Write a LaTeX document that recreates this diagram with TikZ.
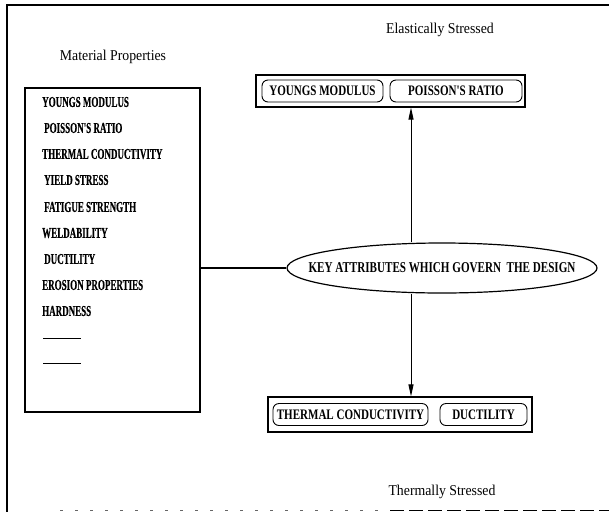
\documentclass[tikz,border=0pt]{standalone}
\usepackage{fontspec}
\setmainfont{Liberation Serif}
\newfontfamily\capsfont[FakeStretch=0.6,FakeBold=0.4]{Liberation Serif}
\newfontfamily\pillfont[FakeStretch=0.76]{Liberation Serif}
\newfontfamily\keyfont[FakeStretch=0.74]{Liberation Serif}
\newfontfamily\labelfont[FakeStretch=0.92]{Liberation Serif}
\usetikzlibrary{shapes.geometric,arrows.meta}
\begin{document}
\begin{tikzpicture}[x=1pt,y=-1pt,
  frameline/.style={line width=1.4pt},
  box/.style={draw,line width=1.1pt,inner sep=0pt},
  pill/.style={draw,rounded corners=6pt,line width=0.9pt,inner sep=0pt,
    minimum height=22pt,font=\pillfont\bfseries\fontsize{14.5}{15}\selectfont},
  item/.style={anchor=west,inner sep=0pt,font=\capsfont\bfseries\fontsize{15}{16}\selectfont},
  title/.style={inner sep=0pt,font=\labelfont\fontsize{15}{16}\selectfont},
  keyshape/.style={draw,ellipse,line width=1.2pt,inner sep=0pt,
    minimum width=310pt,minimum height=50pt},
  keytext/.style={inner sep=0pt,font=\keyfont\bfseries\fontsize{15}{16}\selectfont},
  link/.style={line width=2.4pt},
  arrowline/.style={line width=0.9pt,-{Triangle[length=12pt,width=5pt]}},
  dashline/.style={line width=0.8pt}]
\useasboundingbox (0,0) rectangle (609,512);

% outer frame: open on the right, broken along the bottom
\draw[frameline] (609,5) -- (7,5) -- (7,512);
\draw[line width=0.7pt,black!60,dash pattern=on 3pt off 12pt] (60,510) -- (390,510);
\draw[line width=0.9pt,dash pattern=on 14pt off 5pt] (390,510) -- (609,510);

% titles
\node[title] (mattitle) at (113,57) {Material Properties};
\node[title] (eltitle) at (440,30) {Elastically Stressed};
\node[title] (thtitle) at (442,492) {Thermally Stressed};

% list of material properties
\node[box,minimum width=175pt,minimum height=324pt] (props) at (112.5,250) {};
\node[item] (p1) at (42,102) {YOUNGS MODULUS};
\node[item] (p2) at (44,128) {POISSON'S RATIO};
\node[item] (p3) at (42,154) {THERMAL CONDUCTIVITY};
\node[item] (p4) at (44,180) {YIELD STRESS};
\node[item] (p5) at (44,207) {FATIGUE STRENGTH};
\node[item] (p6) at (42,233) {WELDABILITY};
\node[item] (p7) at (44,259) {DUCTILITY};
\node[item] (p8) at (42,285) {EROSION PROPERTIES};
\node[item] (p9) at (42,311) {HARDNESS};
\draw[dashline] (43,338) -- (81,338);
\draw[dashline] (43,363) -- (81,363);

% central ellipse with its caption
\node[keyshape] (key) at (442,268) {};
\node[keytext] (keycap) at (key.center) {KEY ATTRIBUTES WHICH GOVERN\ \ THE DESIGN};

% elastically stressed group
\node[box,minimum width=269pt,minimum height=32pt] (elastic) at (390.5,91) {};
\node[pill,minimum width=121pt] (ym) at (322.5,91) {YOUNGS MODULUS};
\node[pill,minimum width=132pt] (pr) at (456,91) {POISSON'S RATIO};

% thermally stressed group
\node[box,minimum width=264pt,minimum height=35pt] (thermal) at (400,414.5) {};
\node[pill,minimum width=155pt] (tc) at (350.5,414.5) {THERMAL CONDUCTIVITY};
\node[pill,minimum width=87pt] (du) at (483.5,414.5) {DUCTILITY};

% connectors
\coordinate (ax) at (411,0);
\draw[link] (props.east |- key.west) -- (key.west);
\draw[arrowline] (key.north -| ax) -- (elastic.south -| ax);
\draw[arrowline] (key.south -| ax) -- (thermal.north -| ax);
\end{tikzpicture}
\end{document}
